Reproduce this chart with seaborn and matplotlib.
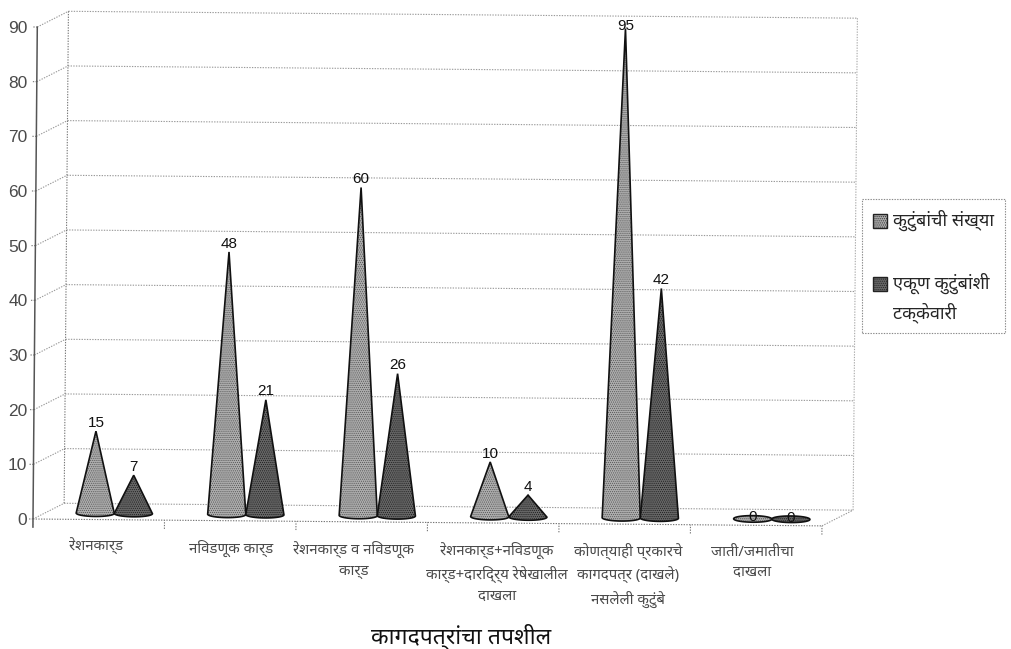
import numpy as np
import pandas as pd
import seaborn as sns
import matplotlib
matplotlib.use("Agg")
import matplotlib.pyplot as plt
from matplotlib.patches import Polygon, Patch
from matplotlib.transforms import Affine2D

# Data
categories = [
    "रेशनकार्ड",
    "निवडणूक कार्ड",
    "रेशनकार्ड व निवडणूक\nकार्ड",
    "रेशनकार्ड+निवडणूक\nकार्ड+दारिद्र्य रेषेखालील\nदाखला",
    "कोणत्याही प्रकारचे\nकागदपत्र (दाखले)\nनसलेली कुटुंबे",
    "जाती/जमातीचा\nदाखला",
]
families_count = [15, 48, 60, 10, 95, 0]
families_percent = [7, 21, 26, 4, 42, 0]
series_names = ["कुटुंबांची संख्या", "एकूण कुटुंबांशी\nटक्केवारी"]
y_ticks = list(range(0, 100, 10))
x_title = "कागदपत्रांचा तपशील"

FRONT, DARK = "#adadad", "#666666"
HATCH = ["#555555", "#1e1e1e"]
GRID = "#999999"
TEXT = "#4a4a4a"

W, H = 1011, 649

sns.set_theme(style="white")
plt.rcParams["font.family"] = ["Noto Sans", "Liberation Sans", "DejaVu Sans"]
plt.rcParams["hatch.linewidth"] = 0.5

df = pd.DataFrame({
    "category": categories * 2,
    "series": [series_names[0]] * 6 + [series_names[1]] * 6,
    "value": families_count + families_percent,
})

fig = plt.figure(figsize=(W / 100, H / 100), dpi=100, facecolor="white")
# front plane of the 3D box, in pixels: x 33..822, y 27..519
ax = fig.add_axes([33 / W, 1 - 519 / H, 789 / W, 492 / H])

sns.barplot(data=df, x="category", y="value", hue="series", order=categories,
            hue_order=series_names, width=0.58, dodge=True, legend=False, ax=ax)
ax.set_xlim(-0.5, 5.5)
ax.set_ylim(0, 90)
ax.patch.set_visible(False)
for s in ax.spines.values():
    s.set_visible(False)

px_x = 789 / 6
px_y = 492 / 90
depth_x = 31 / px_x
depth_y = 16 / px_y

# the scan is turned slightly clockwise
rot = ax.transData + Affine2D().rotate_deg_around(33, H - 519, -0.5)


def line(xs, ys, **kw):
    style = dict(color=GRID, lw=0.8, ls=(0, (1.2, 1.2)), clip_on=False, zorder=1)
    style.update(kw)
    ax.plot(xs, ys, transform=rot, **style)


left, right = -0.5, 5.5
for v in y_ticks:
    line([left, left + depth_x], [v, v + depth_y])
    line([left + depth_x, right + depth_x], [v + depth_y, v + depth_y])
    line([left - 0.03, left], [v, v], color="#777777")

line([left + depth_x] * 2, [depth_y, 90 + depth_y], color="#777777")
line([right + depth_x] * 2, [depth_y, 90 + depth_y], color="#aaaaaa")
line([left, right], [0, 0], color="#777777")
line([right, right + depth_x], [0, depth_y])
line([left, left], [-1.5, 90], color="#555555", lw=1.1, ls="-")
for b in np.arange(left, right + 1):
    line([b, b], [-1.6, 0], color="#777777")

# turn the hidden bars from seaborn into cones
for i, container in enumerate(ax.containers):
    for bar in container:
        bar.set_visible(False)
        xc = bar.get_x() + bar.get_width() / 2 + depth_x / 2
        half = bar.get_width() / 2
        y0 = depth_y / 2 - 0.3
        value = bar.get_height()
        top = min(value, 89.5)
        e = 0.6
        if value > 0:
            t = np.linspace(0, -np.pi, 40)
        else:
            t = np.linspace(0, -2 * np.pi, 80)
        px = xc + half * np.cos(t)
        py = y0 + e * np.sin(t)
        if value > 0:
            pts = np.vstack([[xc, y0 + top], np.column_stack([px, py])])
        else:
            pts = np.column_stack([px, py])
        z = 3 + i
        ax.add_patch(Polygon(pts, closed=True, facecolor=[FRONT, DARK][i],
                             edgecolor=HATCH[i], hatch="........", lw=0,
                             transform=rot, clip_on=False, zorder=z))
        ax.add_patch(Polygon(pts, closed=True, fill=False, edgecolor="#111111",
                             lw=1.2, transform=rot, clip_on=False, zorder=z))
        if value > 90:
            off = -3
        elif value > 0:
            off = 1
        else:
            off = -4
        ax.annotate(str(int(value)), (xc, y0 + top), xycoords=rot,
                    xytext=(0, off), textcoords="offset points",
                    ha="center", va="bottom", fontsize=11, color="#111111",
                    family="Liberation Sans", zorder=8, annotation_clip=False)

ax.set_yticks(y_ticks)
ax.set_yticklabels([str(v) for v in y_ticks], family="Liberation Sans",
                   fontsize=12.5, color=TEXT)
ax.set_xticks(range(6))
ax.set_xticklabels(categories, fontsize=10.8, color=TEXT, linespacing=1.52)
ax.tick_params(axis="y", length=0, pad=4)
ax.tick_params(axis="x", length=0, pad=14)
label_dx = [-3, 1, -8, 4, 3, -4]
for i, lab in enumerate(ax.get_xticklabels()):
    lab.set_verticalalignment("top")
    lab.set_transform(lab.get_transform() + Affine2D().translate(label_dx[i], -1.2 * i))

ax.set_xlabel(x_title, fontsize=16.5, color="#111111", fontweight="bold")
ax.set_ylabel("")
ax.xaxis.set_label_coords((461 - 33) / 789, -(624 - 519) / 492)

handles = [Patch(facecolor=FRONT, edgecolor="#222222", hatch="........"),
           Patch(facecolor=DARK, edgecolor="#222222", hatch="........")]
leg = fig.legend(handles, series_names, loc="upper left",
                 bbox_to_anchor=(862 / W, 1 - 199 / H), borderaxespad=0,
                 fontsize=13, handlelength=0.8, handleheight=0.8, handletextpad=0.3,
                 labelspacing=2.3, borderpad=0.6, fancybox=False, framealpha=1,
                 edgecolor="#888888")
leg.get_frame().set_linestyle((0, (1.2, 1.2)))
leg.get_frame().set_linewidth(0.8)
for txt in leg.get_texts():
    txt.set_linespacing(1.5)
# keep the swatch next to the first line of a two-line label
for row in leg._legend_handle_box.get_children()[0].get_children():
    row.align = "top"
    row.get_children()[0].height += 3

fig.savefig("out.png", dpi=100)
